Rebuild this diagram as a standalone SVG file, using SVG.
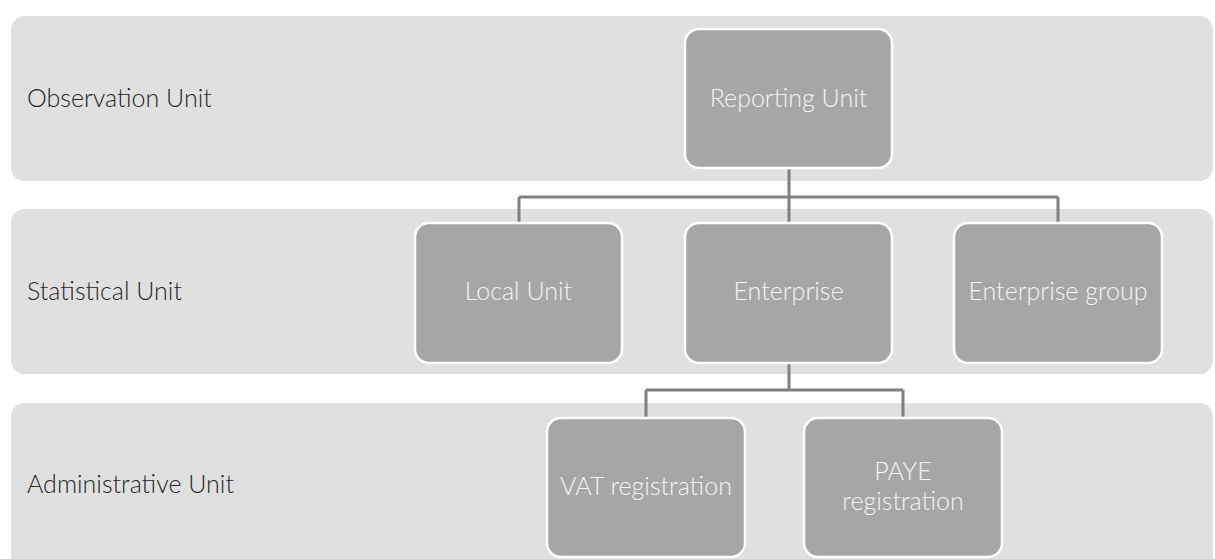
<svg xmlns="http://www.w3.org/2000/svg" width="1215" height="559" viewBox="0 0 1215 559">
<style>
.band{fill:#e0e0e0}
.node{fill:#a6a6a6;stroke:#ffffff;stroke-width:2.5}
.lbl{font-family:Lato,"Open Sans",sans-serif;font-weight:300;font-size:25px;fill:#262626}
.ntx{font-family:Lato,"Open Sans",sans-serif;font-weight:300;font-size:25px;fill:#f4f4f4;text-anchor:middle}
.con{fill:none;stroke:#808080;stroke-width:3}
</style>
<rect width="1215" height="559" fill="#ffffff"/>
<g id="band-observation">
<rect class="band" x="11" y="16" width="1202" height="165" rx="14"/>
<text class="lbl" x="27" y="107">Observation Unit</text>
</g>
<g id="band-statistical">
<rect class="band" x="11" y="209" width="1202" height="165" rx="14"/>
<text class="lbl" x="27" y="300">Statistical Unit</text>
</g>
<g id="band-administrative">
<rect class="band" x="11" y="403" width="1202" height="180" rx="14"/>
<text class="lbl" x="27" y="493">Administrative Unit</text>
</g>
<g id="connectors">
<path class="con" d="M789 168 V222 M519 197 H1058 M519 197 V223 M1058 197 V223"/>
<path class="con" d="M789 363 V390 M646 390 H903 M646 390 V418 M903 390 V418"/>
</g>
<g id="reporting-unit">
<rect class="node" x="685" y="29" width="207" height="139" rx="14"/>
<text class="ntx" x="788.5" y="107">Reporting Unit</text>
</g>
<g id="local-unit">
<rect class="node" x="415" y="223" width="207" height="140" rx="14"/>
<text class="ntx" x="518.5" y="300">Local Unit</text>
</g>
<g id="enterprise">
<rect class="node" x="685" y="223" width="207" height="140" rx="14"/>
<text class="ntx" x="788.5" y="300">Enterprise</text>
</g>
<g id="enterprise-group">
<rect class="node" x="954" y="223" width="208" height="140" rx="14"/>
<text class="ntx" x="1058" y="300">Enterprise group</text>
</g>
<g id="vat-registration">
<rect class="node" x="547" y="418" width="198" height="139" rx="14"/>
<text class="ntx" x="646" y="495">VAT registration</text>
</g>
<g id="paye-registration">
<rect class="node" x="804" y="418" width="198" height="139" rx="14"/>
<text class="ntx" x="903" y="480">PAYE</text>
<text class="ntx" x="903" y="510">registration</text>
</g>
</svg>
